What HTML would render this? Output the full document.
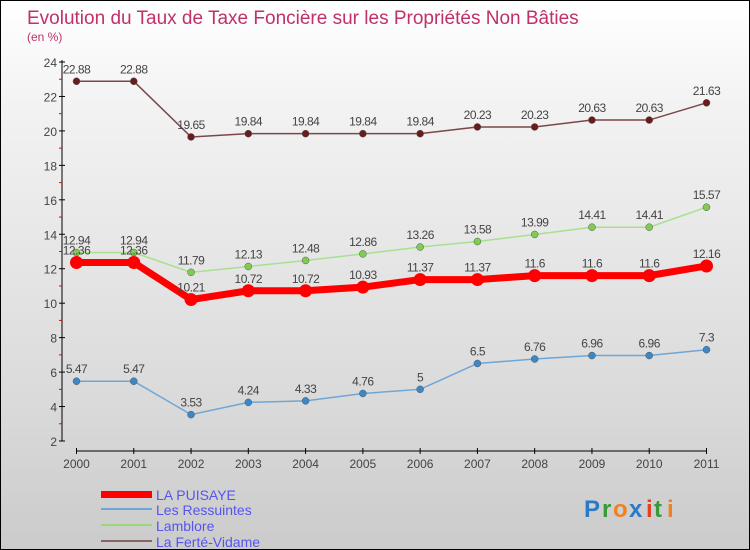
<!DOCTYPE html>
<html><head><meta charset="utf-8"><style>
body{margin:0}
#c{position:relative;width:748px;height:548px;border:1px solid #000;background:linear-gradient(#fff,#f2f2f2 20%,#d9d9d9 75%,#cbcbcb);font-family:"Liberation Sans",sans-serif;overflow:hidden}
svg{position:absolute;left:0;top:0}
</style></head><body>
<div id="c">
<svg width="750" height="550" id="s">
<text x="26" y="23" font-size="19" fill="#c0306a">Evolution du Taux de Taxe Foncière sur les Propriétés Non Bâties</text>
<text x="26" y="40" font-size="12" fill="#c0306a">(en %)</text>
<g id="g"></g>
<rect x="100" y="490" width="51" height="7" fill="#f00"/>
<rect x="100" y="507" width="51" height="2" fill="#6fa6d6"/>
<rect x="100" y="523" width="51" height="2" fill="#98d878"/>
<rect x="100" y="539" width="51" height="2" fill="#8a6464"/>
<g font-size="14" fill="#5555ee">
<text x="155" y="499">LA PUISAYE</text>
<text x="155" y="514">Les Ressuintes</text>
<text x="155" y="530">Lamblore</text>
<text x="155" y="546">La Ferté-Vidame</text>
</g>
<g font-size="24" font-weight="bold">
<text x="583" y="516" fill="#2a7ac8">P</text><text x="601" y="516" fill="#3a9a3a">r</text><text x="612" y="516" fill="#f08020">o</text><text x="628" y="516" fill="#2a7ac8">x</text><text x="645" y="516" fill="#e04020">i</text><text x="653" y="516" fill="#3a9a3a">t</text><text x="666" y="516" fill="#f08020">i</text>
</g>
</svg>
</div>
<script>
const years=[2000,2001,2002,2003,2004,2005,2006,2007,2008,2009,2010,2011];
const yTicks=[2,4,6,8,10,12,14,16,18,20,22,24];
const puisaye=[12.36,12.36,10.21,10.72,10.72,10.93,11.37,11.37,11.6,11.6,11.6,12.16];
const ressuintes=[5.47,5.47,3.53,4.24,4.33,4.76,5,6.5,6.76,6.96,6.96,7.3];
const lamblore=[12.94,12.94,11.79,12.13,12.48,12.86,13.26,13.58,13.99,14.41,14.41,15.57];
const ferte=[22.88,22.88,19.65,19.84,19.84,19.84,19.84,20.23,20.23,20.63,20.63,21.63];
const NS="http://www.w3.org/2000/svg",g=document.getElementById('g');
const X=i=>75.5+i*(705.5-75.5)/(years.length-1);
const Y=v=>440-(v-2)*(440-61)/22;
function el(t,a,p){const e=document.createElementNS(NS,t);for(const k in a)e.setAttribute(k,a[k]);(p||g).appendChild(e);return e;}
let ax=el('line',{x1:61,y1:59,x2:61,y2:440,stroke:'#000'});


let xa=el('line',{x1:75,y1:450,x2:706,y2:450,stroke:'#000'});


yTicks.forEach((t,i)=>{
  el('line',{x1:58,x2:64,y1:Y(t),y2:Y(t),stroke:'#000'});
  if(i<yTicks.length-1)el('line',{x1:58,x2:61,y1:Y(t+1),y2:Y(t+1),stroke:'#e00'});
  const tx=el('text',{x:56,y:Y(t)+5,'font-size':12,fill:'#444','text-anchor':'end'});
  tx.textContent=t;
  
  
});
years.forEach((y,i)=>{
  el('line',{x1:X(i),x2:X(i),y1:447,y2:453,stroke:'#000'});
  const tx=el('text',{x:X(i),y:467,'font-size':12,fill:'#444','text-anchor':'middle'});
  tx.textContent=y;
  
  
});
function series(d,name,col,lw,r,dot){
  const pl=el('polyline',{points:d.map((v,i)=>X(i)+','+Y(v)).join(' '),fill:'none',stroke:col,'stroke-width':lw});
  
  
  d.forEach((v,i)=>{
    const c=el('circle',{cx:X(i),cy:Y(v),r:r,fill:dot,stroke:'#555','stroke-width':lw>4?0:0.5});
    
    
    const t=el('text',{x:X(i),y:Y(v)-8,'font-size':12,fill:'#444','text-anchor':'middle','letter-spacing':'-0.5'});
    t.textContent=v;
    
    
  });
}
series(ferte,'la-ferte-vidame','#7a4848',1.5,3.5,'#6a1c1c');
series(lamblore,'lamblore','#a8e090',1.5,3.5,'#80cc50');
series(ressuintes,'les-ressuintes','#6fa6d6',1.5,3.5,'#3a88c8');
series(puisaye,'la-puisaye','#f00',7,6.5,'#f00');
</script>
</body></html>
